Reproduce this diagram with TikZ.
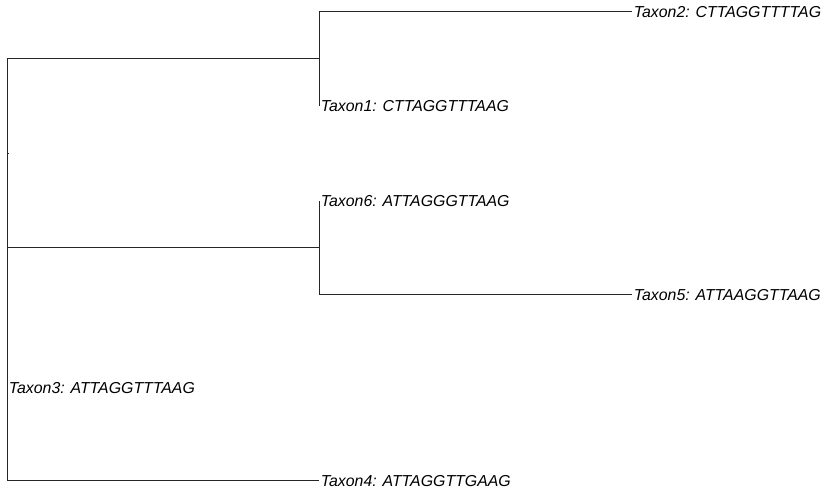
\documentclass[tikz,border=0pt]{standalone}
\usepackage{fontspec}
\setmainfont{Liberation Sans}
\usepackage{tikz}
\usetikzlibrary{positioning,calc}

\tikzset{
  branch/.style={black!85,line width=0.75pt},
  taxon/.style={anchor=west,inner sep=1.2pt,font=\fontsize{11.9}{13}\selectfont\itshape}
}

\begin{document}
\begin{tikzpicture}[x=0.75pt,y=-0.75pt]
    \useasboundingbox (0,0) rectangle (825,491);

    % internal nodes of the tree
    \coordinate (root) at (7,294.5);
    \coordinate (nA) at (7,153.5);
    \coordinate (nB) at (7,434.5);
    \coordinate (n12) at (319,59);
    \coordinate (n56) at (319,248);

    % leaves with their sequences
    \node[taxon] (t2) at (632,12) {Taxon2: CTTAGGTTTTAG};
    \node[taxon] (t1) at (319,106) {Taxon1: CTTAGGTTTAAG};
    \node[taxon] (t6) at (319,201) {Taxon6: ATTAGGGTTAAG};
    \node[taxon] (t5) at (632,295) {Taxon5: ATTAAGGTTAAG};
    \node[taxon] (t3) at (7,388) {Taxon3: ATTAGGTTTAAG};
    \node[taxon] (t4) at (319,481) {Taxon4: ATTAGGTTGAAG};

    % elbow branches, parent to child
    \foreach \p/\c in {root/nA,root/nB,nA/n12,nA/n56,nB/t3.west,nB/t4.west,
                       n12/t2.west,n12/t1.west,n56/t6.west,n56/t5.west} {
        \draw[branch] (\p) |- (\c);
    }
    \draw[branch] (nA) -- ++(2,0);
\end{tikzpicture}
\end{document}
